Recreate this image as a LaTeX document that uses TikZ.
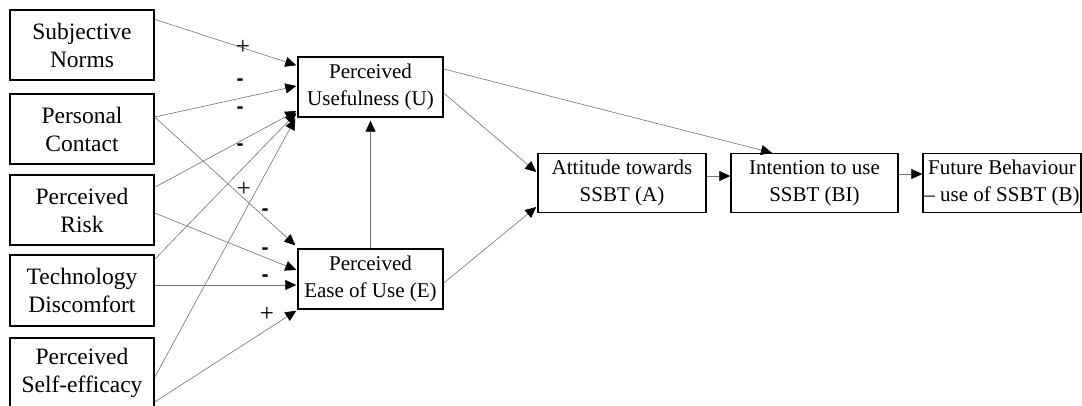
\documentclass[tikz,border=0pt]{standalone}
\usepackage{fontspec}
\setmainfont{Liberation Serif}
\newfontfamily\lsans{Liberation Sans}
\usetikzlibrary{arrows.meta,calc}
\begin{document}
\begin{tikzpicture}[x=1pt,y=-1pt,
  box/.style={draw, line width=1.4pt, inner sep=0pt, align=center},
  lbox/.style={box, minimum width=144pt, minimum height=70pt, font=\fontsize{23.5}{28}\selectfont},
  mbox/.style={box, minimum height=59pt, font=\fontsize{21}{27}\selectfont},
  conn/.style={draw=black!55, line width=0.6pt, -{Triangle[length=11pt,width=10pt,color=black]}},
  lab/.style={inner sep=0pt, font=\fontsize{25}{25}\selectfont},
  mlab/.style={inner sep=0pt, font=\lsans\bfseries\fontsize{21}{21}\selectfont}]
\useasboundingbox (0,0) rectangle (1082,405);
\fill[white] (0,0) rectangle (1082,405);
% left boxes
\node[lbox] (SN) at (82,45) {Subjective\\Norms};
\node[lbox] (PC) at (82,129) {Personal\\Contact};
\node[lbox] (PR) at (82,210) {Perceived\\Risk};
\node[lbox, minimum height=71pt] (TD) at (82,290.5) {Technology\\Discomfort};
\node[lbox] (PSE) at (82,373) {Perceived\\Self-efficacy};
% middle boxes
\node[mbox, minimum width=145pt, minimum height=60pt] (U) at (370.5,87) {Perceived\\Usefulness (U)};
\node[mbox, minimum width=145pt, minimum height=60pt] (E) at (370.5,279) {Perceived\\Ease of Use (E)};
\node[mbox, minimum width=168pt] (A) at (622,183) {Attitude towards\\SSBT (A)};
\node[mbox, minimum width=167pt] (BI) at (814.5,183) {Intention to use\\SSBT (BI)};
\node[mbox, minimum width=158pt] (B) at (1002,183) {Future Behaviour\\– use of SSBT (B)};
% connectors into U
\draw[conn] ([yshift=-10pt]SN.north east) -- ([xshift=-1pt,yshift=-9pt]U.north west);
\draw[conn] ([yshift=12pt]PC.east) -- ([xshift=-1pt,yshift=1pt]U.west);
\draw[conn] ([yshift=-13pt]PR.north east) -- ([xshift=-1pt,yshift=-24pt]U.west);
\draw[conn] ([yshift=-5pt]TD.north east) -- ([xshift=-1pt,yshift=-26pt]U.west);
\draw[conn] ([yshift=-40pt]PSE.north east) -- ([xshift=-2pt,yshift=-1pt]U.south west);
% connectors into E
\draw[conn] ([yshift=12pt]PC.east) -- ([xshift=-2pt,yshift=3pt]E.north west);
\draw[conn] ([yshift=-3pt]PR.east) -- ([xshift=-1pt,yshift=9pt]E.west);
\draw[conn] ([yshift=5.5pt]TD.east) -- ([xshift=-1pt,yshift=-6pt]E.west);
\draw[conn] ([yshift=-29pt]PSE.east) -- ([xshift=-1pt,yshift=-1pt]E.south west);
% other connectors
\draw[conn, shorten >=3pt] (E.north) -- (U.south);
\draw[conn] ([yshift=-6pt]U.east) -- ([xshift=-1pt,yshift=11pt]A.west);
\draw[conn] ([yshift=-4pt]E.east) -- ([xshift=-1pt,yshift=-24pt]A.west);
\draw[conn] ([yshift=18pt]U.east) -- ([xshift=-42.5pt]BI.north);
\draw[conn] ([yshift=7pt]A.east) -- ([yshift=7pt]BI.west);
\draw[conn] ([yshift=9pt]BI.east) -- ([yshift=9pt]B.west);
% labels
\node[lab] (l1) at (243,47) {+};
\node[mlab] (l2) at (240,82) {-};
\node[mlab] (l3) at (240,110) {-};
\node[mlab] (l4) at (240,147) {-};
\node[lab] (l5) at (244,189) {+};
\node[mlab] (l6) at (265,212) {-};
\node[mlab] (l7) at (265,251) {-};
\node[mlab] (l8) at (265,278) {-};
\node[lab] (l9) at (267,314) {+};
\end{tikzpicture}
\end{document}
